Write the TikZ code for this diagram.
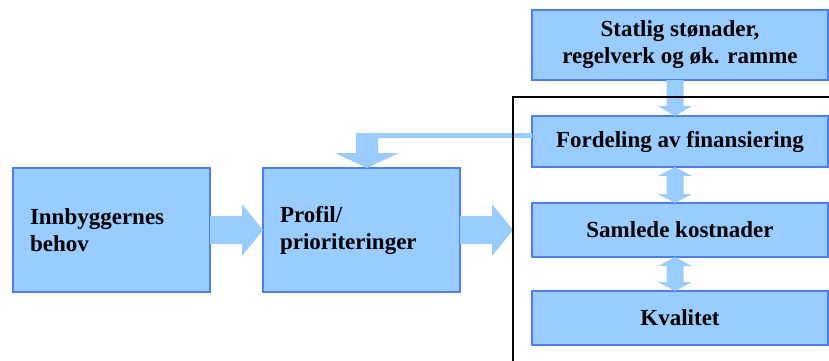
\documentclass[tikz,border=0pt]{standalone}
\usepackage{fontspec}
\setmainfont{Liberation Serif}
\usetikzlibrary{calc}
\definecolor{boxfill}{HTML}{99CCFF}
\definecolor{boxline}{HTML}{4D7CFF}
\newcommand\mydblarrow[2]{%
  \fill[blockarrow] ($(#1)+(-5,0)$) -- ($(#1)+(12,9)$) -- ($(#1)+(3.5,9)$) --
    ($(#2)+(3.5,-9)$) -- ($(#2)+(12,-9)$) -- ($(#2)+(-5,0)$) -- ($(#2)+(-22,-9)$) --
    ($(#2)+(-13.5,-9)$) -- ($(#1)+(-13.5,9)$) -- ($(#1)+(-22,9)$) -- cycle;}
\begin{document}
\begin{tikzpicture}[x=1pt,y=-1pt,
  box/.style={draw=boxline,fill=boxfill,line width=1.2pt,anchor=north west,inner sep=0pt,outer sep=0pt,
    font=\bfseries\fontsize{23}{27}\selectfont},
  blockarrow/.style={fill=boxfill,draw=none}]
\useasboundingbox (0,0) rectangle (829,360);
% frame coordinates
\coordinate (fbl) at (513,361);
\coordinate (ftl) at (513,97);
\coordinate (ftr) at (830,97);
\coordinate (fr) at (513,230);
% boxes
\node[box,minimum width=197pt,minimum height=124pt,text width=163pt,align=left] (a) at (13,168) {Innbyggernes\\behov};
\node[box,minimum width=197pt,minimum height=124pt,text width=163pt,align=left] (b) at (263,168) {Profil/\\prioriteringer};
\node[box,minimum width=296pt,minimum height=70pt,align=center] (s) at (532,10) {Statlig stønader,\\regelverk og øk. ramme};
\node[box,minimum width=296pt,minimum height=51pt] (f) at (532,116) {Fordeling av finansiering};
\node[box,minimum width=296pt,minimum height=54pt] (c) at (532,203) {Samlede kostnader};
\node[box,minimum width=296pt,minimum height=54pt] (k) at (532,291) {Kvalitet};
% horizontal block arrows
\fill[blockarrow] ($(a.east)+(0,-14)$) -- ($(a.east)+(32,-14)$) -- ($(a.east)+(32,-26)$) -- (b.west)
  -- ($(a.east)+(32,26)$) -- ($(a.east)+(32,14)$) -- ($(a.east)+(0,14)$) -- cycle;
\fill[blockarrow] ($(b.east)+(0,-14)$) -- ($(b.east)+(32,-14)$) -- ($(b.east)+(32,-26)$) -- (fr)
  -- ($(b.east)+(32,26)$) -- ($(b.east)+(32,14)$) -- ($(b.east)+(0,14)$) -- cycle;
% feedback arrow
\coordinate (fbt) at ($(f.west)+(0,-8.5)$);
\coordinate (fbb) at ($(f.west)+(0,-3.5)$);
\coordinate (tip) at ($(b.north)+(5.5,0)$);
\coordinate (shl) at ($(tip)+(-11,-15)$);
\coordinate (shr) at ($(tip)+(11,-15)$);
\fill[blockarrow] (fbt) -- (shl |- fbt) -- (shl)
  -- ($(tip)+(-32,-15)$) -- (tip) -- ($(tip)+(32,-15)$)
  -- (shr) -- (shr |- fbb) -- (fbb) -- cycle;
% top arrow
\fill[blockarrow] ($(s.south)+(-13.5,0)$) -- ($(s.south)+(3.5,0)$) -- ($(f.north)+(3.5,-10)$)
  -- ($(f.north)+(12,-10)$) -- ($(f.north)+(-5,0)$) -- ($(f.north)+(-22,-10)$)
  -- ($(f.north)+(-13.5,-10)$) -- cycle;
% double arrows
\mydblarrow{f.south}{c.north}
\mydblarrow{c.south}{k.north}
% frame
\draw[line width=1.5pt] (fbl) -- (ftl) -- (ftr);
\end{tikzpicture}
\end{document}
